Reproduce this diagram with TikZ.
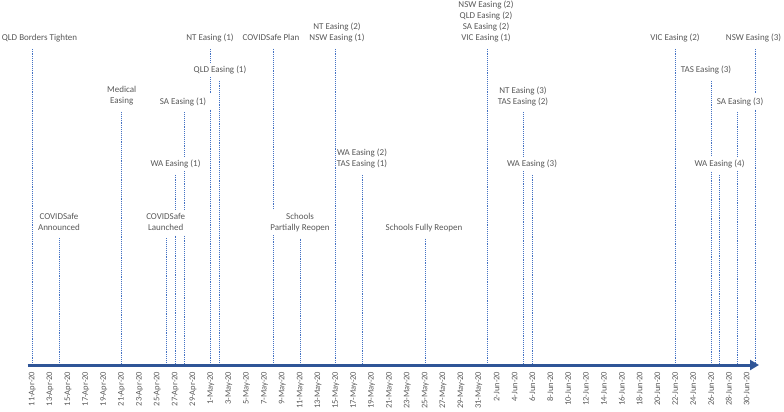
\documentclass[tikz,border=0pt]{standalone}
\usepackage{fontspec}
\setmainfont{Carlito}
\usetikzlibrary{arrows.meta,backgrounds}
\definecolor{evblue}{RGB}{68,114,196}
\definecolor{axblue}{RGB}{47,85,151}
\definecolor{txtgray}{RGB}{89,89,89}
\begin{document}
\begin{tikzpicture}[x=1pt,y=-1pt,
  lab/.style={font=\fontsize{9}{11}\selectfont, text=txtgray, align=center, fill=white,
    inner xsep=2pt, inner ysep=3pt,
    execute at begin node=\vphantom{(}, execute at end node=\vphantom{(}},
  evline/.style={evblue, line width=0.9pt, densely dotted, shorten <=3.5pt},
  datelab/.style={font=\fontsize{8.5}{10}\selectfont, text=txtgray, rotate=90, anchor=east, inner sep=0pt},
  axisline/.style={axblue, line width=3pt, -{Triangle[length=9pt,width=10pt]}}]
\useasboundingbox (0,0) rectangle (784,412);

% axis
\coordinate (axs) at (27.5,365);
\coordinate (axe) at (759,365);

% event labels
\node[lab] (e1)  at (39.5,38)   {QLD Borders Tighten};
\node[lab] (e2)  at (59,222.5)  {COVIDSafe\\Announced};
\node[lab] (e3)  at (121.7,96)  {Medical\\Easing};
\node[lab, inner xsep=5.5pt] (e4) at (183,101.5) {SA Easing (1)};
\node[lab] (e5)  at (210,38)    {NT Easing (1)};
\node[lab] (e6)  at (220,70)    {QLD Easing (1)};
\node[lab] (e7)  at (271,38)    {COVIDSafe Plan};
\node[lab] (e8)  at (337,32.5)  {NT Easing (2)\\NSW Easing (1)};
\node[lab] (e9)  at (362,158.5) {WA Easing (2)\\TAS Easing (1)};
\node[lab] (e10) at (300,222.5) {Schools\\Partially Reopen};
\node[lab] (e11) at (424,228)   {Schools Fully Reopen};
\node[lab] (e12) at (486,21.5)  {NSW Easing (2)\\QLD Easing (2)\\SA Easing (2)\\VIC Easing (1)};
\node[lab] (e13) at (523,96)    {NT Easing (3)\\TAS Easing (2)};
\node[lab] (e14) at (532,164)   {WA Easing (3)};
\node[lab] (e15) at (675,38)    {VIC Easing (2)};
\node[lab] (e16) at (706,70)    {TAS Easing (3)};
\node[lab] (e17) at (753.5,38)  {NSW Easing (3)};
\node[lab, inner xsep=4.5pt] (e18) at (740,101.5) {SA Easing (3)};
\node[lab] (e19) at (719.5,164) {WA Easing (4)};
\node[lab] (e20) at (175.5,164) {WA Easing (1)};
\node[lab] (e21) at (165.7,222.5) {COVIDSafe\\Launched};

% foot points of the drop lines on the axis
\foreach \n/\d in {1/0,2/3,3/10,4/17,5/20,6/21,7/27,8/34,9/37,10/30,11/44,12/51,13/55,14/56,15/72,16/76,17/81,18/79,19/77,20/16,21/15}
  \coordinate (b\n) at ({32.3+8.93*\d},365);

\begin{pgfonlayer}{background}
\foreach \n in {1,2,3,4,5,6,7,9,10,11,12,13,14,15,16,17,18,19,20,21}
  \draw[evline] (b\n |- e\n.south) -- (b\n);
\end{pgfonlayer}
\draw[evline] (b8 |- e8.south) -- (b8);

\draw[axisline] (axs) -- (axe);

% date labels
\foreach \d/\t in {0/11-Apr-20,2/13-Apr-20,4/15-Apr-20,6/17-Apr-20,8/19-Apr-20,10/21-Apr-20,
  12/23-Apr-20,14/25-Apr-20,16/27-Apr-20,18/29-Apr-20,20/1-May-20,22/3-May-20,24/5-May-20,
  26/7-May-20,28/9-May-20,30/11-May-20,32/13-May-20,34/15-May-20,36/17-May-20,38/19-May-20,
  40/21-May-20,42/23-May-20,44/25-May-20,46/27-May-20,48/29-May-20,50/31-May-20,
  52/2-Jun-20,54/4-Jun-20,56/6-Jun-20,58/8-Jun-20,60/10-Jun-20,62/12-Jun-20,64/14-Jun-20,
  66/16-Jun-20,68/18-Jun-20,70/20-Jun-20,72/22-Jun-20,74/24-Jun-20,76/26-Jun-20,
  78/28-Jun-20,80/30-Jun-20}
  \node[datelab] (d\d) at ({32.3+8.93*\d},371.5) {\t};
\end{tikzpicture}
\end{document}
